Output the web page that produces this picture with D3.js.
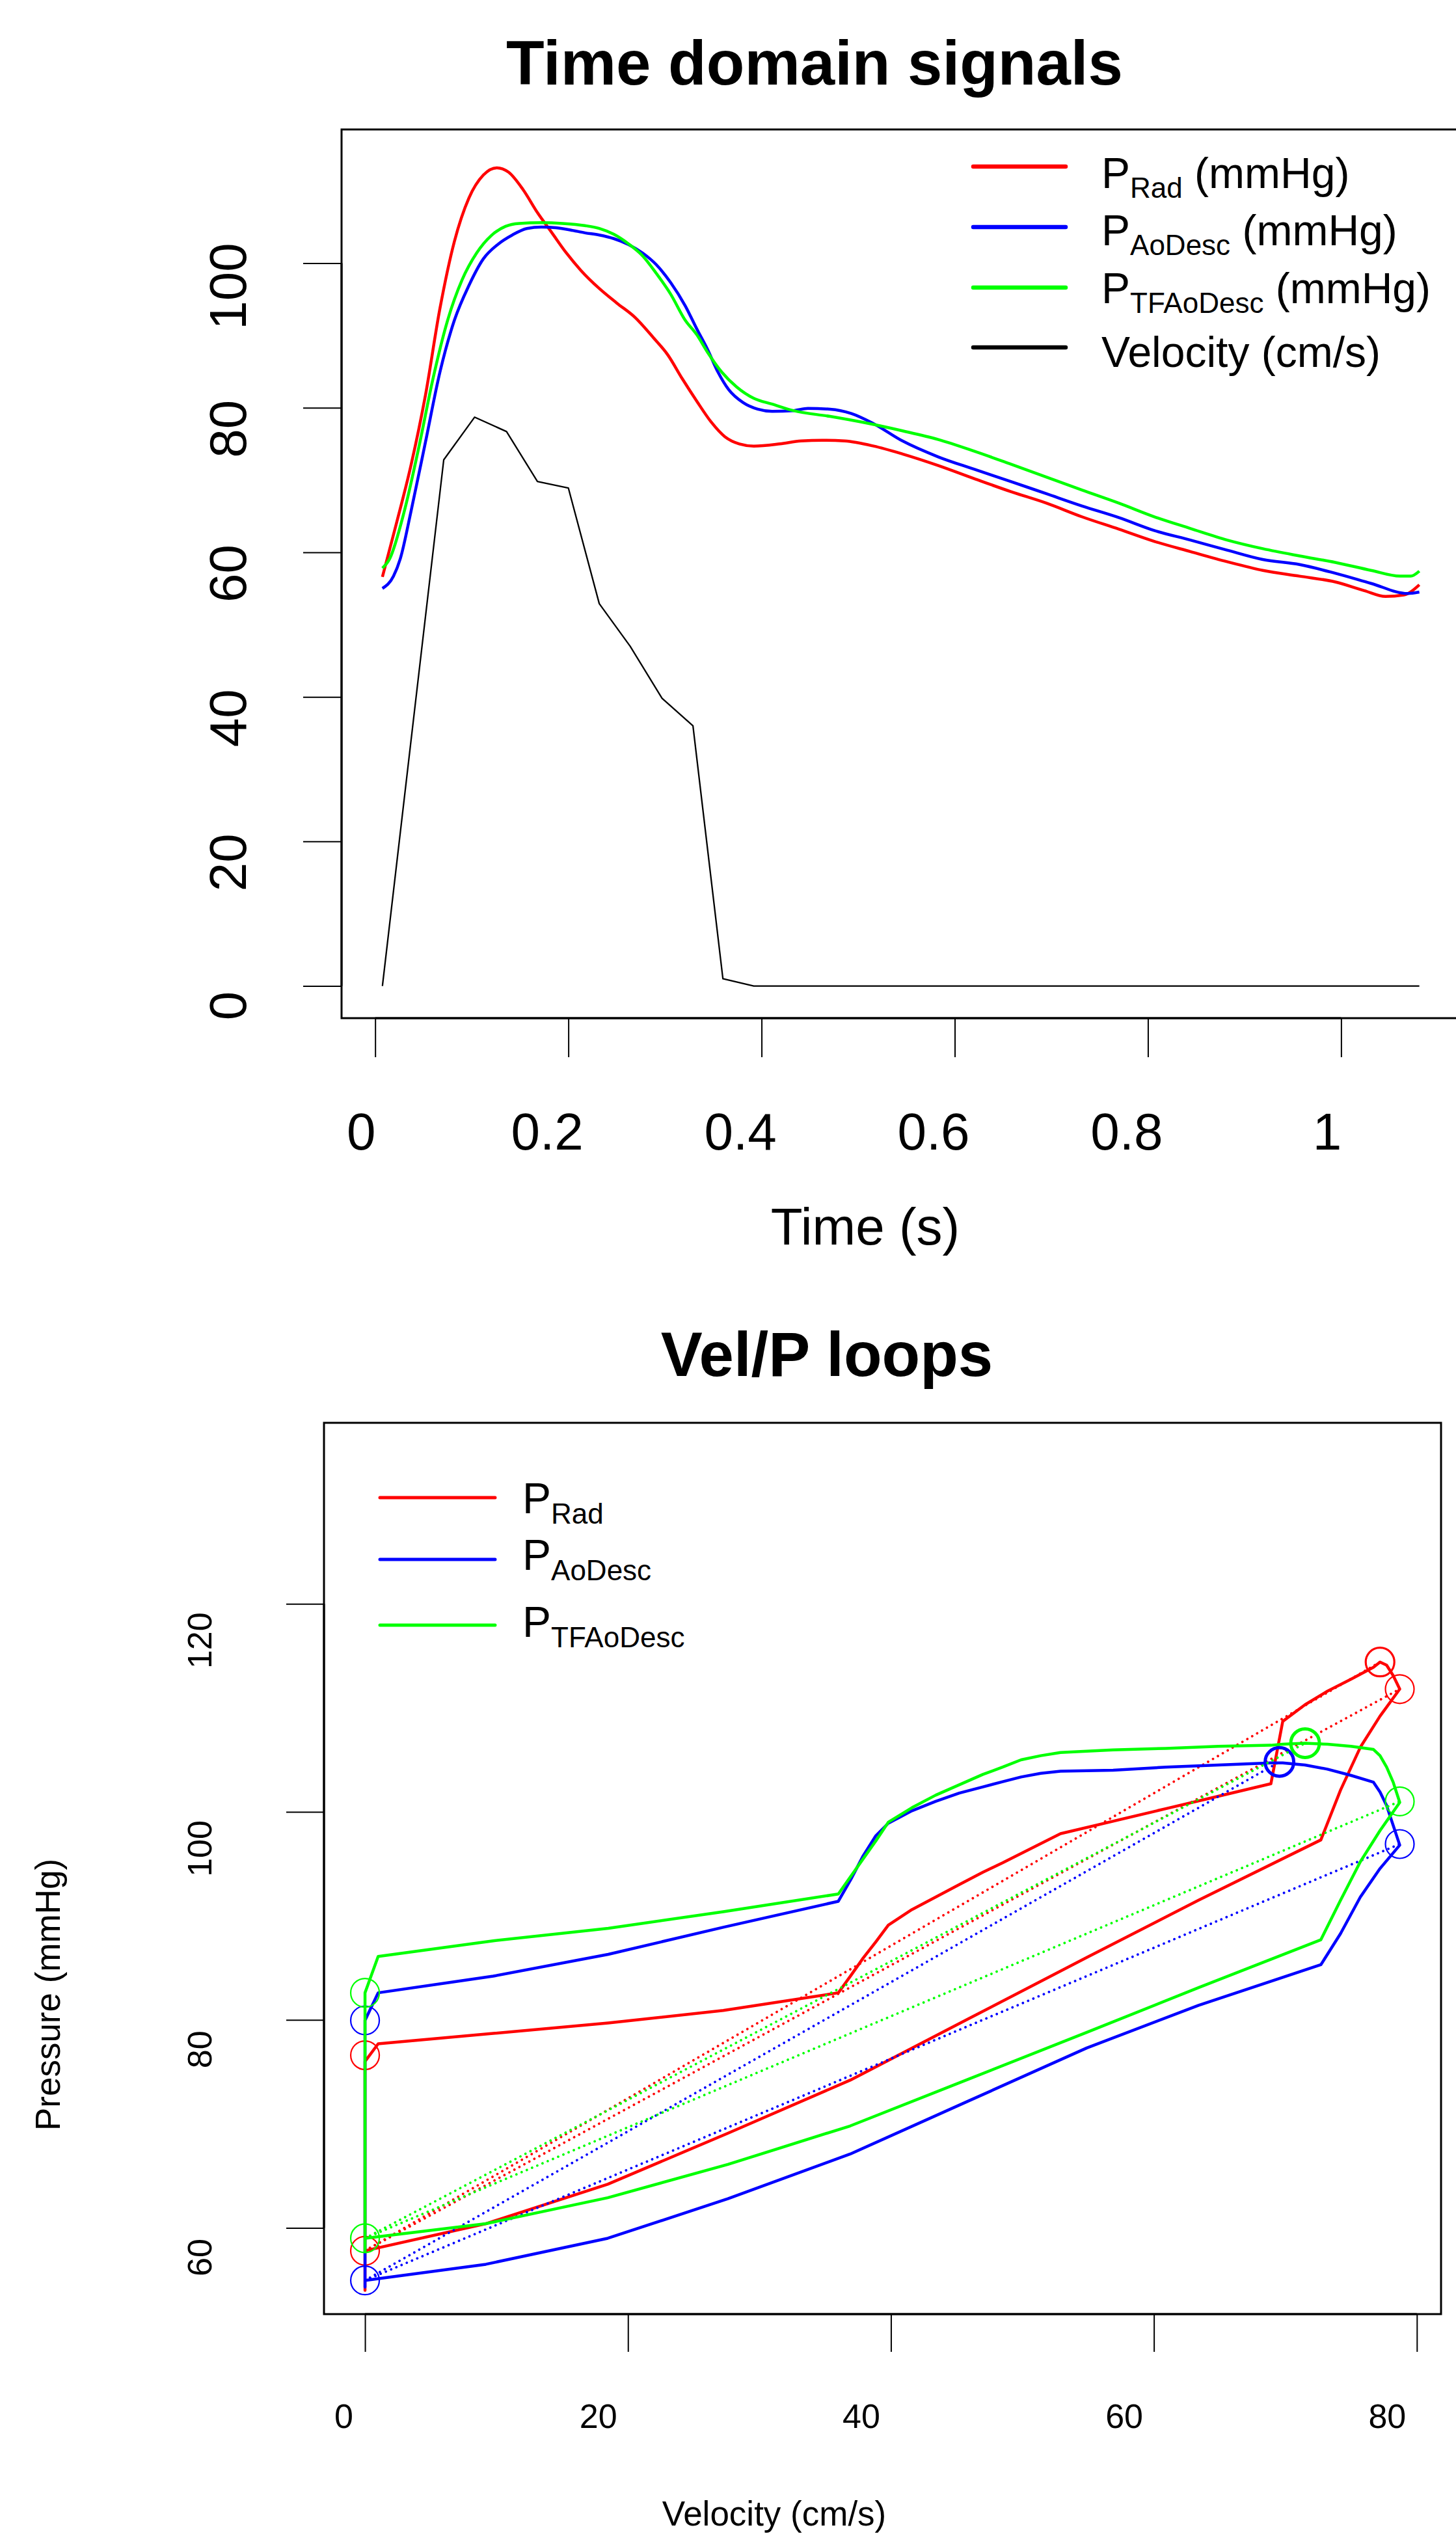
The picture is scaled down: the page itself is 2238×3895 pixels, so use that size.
<!DOCTYPE html>
<html><head><meta charset="utf-8">
<script src="https://cdn.jsdelivr.net/npm/d3@7"></script>
<style>body{margin:0;background:#fff}svg{display:block}text{font-family:"Liberation Sans",Arial,Helvetica,sans-serif}</style>
</head><body>
<script>
// ---------------- DATA: time domain signals ----------------
const tRad = [0.0075,0.022,0.037,0.052,0.067,0.082,0.097,0.112,0.126,0.138,0.153,0.168,0.183,0.198,0.213,0.232,0.25,0.269,0.288,0.303,0.318,0.333,0.348,0.362,0.377,0.392,0.419,0.441,0.463,0.486,0.516,0.546,0.583,0.62,0.658,0.695,0.732,0.77,0.807,0.844,0.882,0.919,0.957,0.994,1.024,1.046,1.065,1.081];
const pRad = [56.6,64,72,81.7,93.7,103,109,112.2,113.2,112.6,110.2,107,104.2,101.4,99,96.5,94.5,92.5,89.7,87.3,84,80.9,78,76,75,74.7,75,75.4,75.5,75.4,74.7,73.6,72,70.2,68.4,66.8,64.9,63.2,61.5,60.1,58.7,57.5,56.7,55.9,54.7,53.9,54.1,55.5];
const tAoDesc = [0.0075,0.019,0.026,0.037,0.052,0.067,0.082,0.097,0.112,0.127,0.142,0.157,0.172,0.187,0.202,0.217,0.232,0.247,0.262,0.277,0.291,0.306,0.321,0.333,0.344,0.355,0.366,0.381,0.396,0.411,0.433,0.448,0.471,0.493,0.516,0.546,0.583,0.62,0.658,0.695,0.732,0.77,0.807,0.844,0.882,0.919,0.957,0.994,1.031,1.069,1.081];
const pAoDesc = [55,56.7,59.1,65.6,75.2,84.9,92.1,96.9,100.6,102.6,103.9,104.8,105,104.9,104.6,104.2,103.9,103.4,102.6,101.4,99.8,97.3,94.1,90.9,88.1,84.9,82.5,80.7,79.8,79.5,79.6,79.9,79.8,79.2,77.8,75.4,73.2,71.5,69.8,68.1,66.4,64.8,63,61.7,60.3,59,58.3,57.1,55.7,54.3,54.5];
const tTFAoDesc = [0.0075,0.015,0.030,0.045,0.060,0.075,0.09,0.105,0.12,0.135,0.149,0.172,0.194,0.217,0.232,0.247,0.262,0.277,0.291,0.306,0.321,0.333,0.344,0.359,0.374,0.392,0.411,0.433,0.471,0.508,0.546,0.583,0.62,0.658,0.695,0.732,0.77,0.807,0.844,0.882,0.919,0.957,0.994,1.031,1.061,1.072,1.081];
const pTFAoDesc = [57.8,59.1,65.6,74.4,84.1,92.1,97.7,101.4,103.8,105.1,105.5,105.6,105.5,105.2,104.8,104,102.7,101,98.6,95.7,92.1,90.1,87.7,84.9,82.9,81.3,80.5,79.6,78.8,77.9,76.8,75.6,74,72.2,70.4,68.6,66.8,64.9,63.3,61.7,60.5,59.5,58.6,57.5,56.7,56.7,57.4];
const tVel = [0.0075,0.071,0.103,0.136,0.168,0.200,0.232,0.264,0.297,0.329,0.360,0.392,0.6,0.8,1.0,1.081];
const vVel = [0,72.8,78.7,76.7,69.8,68.9,52.9,47.0,39.8,36.0,1.0,0,0,0,0,0];

const timeTicks = [0,0.2,0.4,0.6,0.8,1];
const timeTickLabels = ["0","0.2","0.4","0.6","0.8","1"];
const topYTicks = [0,20,40,60,80,100];
const topYTickLabels = ["0","20","40","60","80","100"];

// ---------------- DATA: Vel/P loops ----------------
const loopVel = [0,9.19,18.46,27.6,36.9,45.9,54.9,63.4,72.7,74.2,75.7,77.2,78.7,
  78.2,77.7,77.2,76.7,75.0,73.2,71.5,69.8,68.9,64.9,60.9,56.9,52.9,51.4,49.9,48.5,47.0,45.2,43.4,41.6,39.8,38.85,37.9,36.95,36.0,27.25,18.5,9.75,1.0,0,
  0,0];
const loopRad = [57.8,60.4,64.2,69.1,74.2,80.1,86.0,91.5,97.3,102.1,106.2,109.2,111.8,
  113.1,114.1,114.4,113.9,112.75,111.6,110.3,108.7,102.7,101.5,100.3,99.1,97.9,96.95,96.0,95.1,94.2,93.0,91.8,90.6,89.1,87.5,85.96,84.26,82.6,80.9,79.7,78.7,77.7,76.0,
  54.0,55.5];
const loopAoDesc = [54.95,56.5,59.0,62.8,67.1,72.2,77.3,81.4,85.3,88.3,91.8,94.55,96.8,
  98.7,100.6,101.9,102.85,103.5,104.1,104.5,104.7,104.7,104.5,104.3,104.0,103.9,103.7,103.35,102.9,102.4,101.8,101.0,100.1,98.9,97.7,95.8,93.5,91.4,88.9,86.3,84.2,82.6,79.95,
  54.3,55.0];
const loopTFAoDesc = [59.0,60.4,62.9,66.1,69.8,74.3,78.8,83.1,87.7,91.5,95.2,98.2,100.9,
  102.85,104.3,105.4,106.0,106.3,106.5,106.6,106.5,106.4,106.3,106.1,105.95,105.7,105.4,105.0,104.3,103.6,102.6,101.6,100.4,99.0,97.2,95.5,93.8,92.1,90.4,88.8,87.6,86.1,82.6,
  57.7,58.4];
// marked points: start, end of ejection, max pressure, max velocity
const markVelRad = [0,0,77.2,78.7],       markPRad = [57.8,76.6,114.4,111.8];
const markVelAoDesc = [0,0,69.55,78.7],   markPAoDesc = [54.95,79.95,104.8,96.9];
const markVelTFAoDesc = [0,0,71.5,78.7],  markPTFAoDesc = [59.0,82.6,106.6,101.0];

const velTicks = [0,20,40,60,80];
const velTickLabels = ["0","20","40","60","80"];
const pTicks = [60,80,100,120];
const pTickLabels = ["60","80","100","120"];

const colRad = "#ff0000", colAo = "#0000ff", colTF = "#00ff00";

// ---------------- DRAW ----------------
const W = 2238, H = 3895;
const svg = d3.select("body").append("svg").attr("width", W).attr("height", H);

// ---- top plot ----
const xT = d3.scaleLinear().domain([-0.0348, 1.123]).range([525, 2244]);
const yT = d3.scaleLinear().domain([-4.45, 118.5]).range([1565, 199]);
const gTop = svg.append("g");

const lineT = d3.line().x(d => xT(d[0])).y(d => yT(d[1])).curve(d3.curveMonotoneX);
const zip = (a, b) => a.map((v, i) => [v, b[i]]);
[[tRad, pRad, colRad], [tAoDesc, pAoDesc, colAo], [tTFAoDesc, pTFAoDesc, colTF]].forEach(([t, p, c]) => {
  gTop.append("path").attr("d", lineT(zip(t, p))).attr("fill", "none").attr("stroke", c).attr("stroke-width", 4.5).attr("stroke-linejoin", "round");
});
gTop.append("path").attr("d", d3.line().x(d => xT(d[0])).y(d => yT(d[1]))(zip(tVel, vVel)))
  .attr("fill", "none").attr("stroke", "#000").attr("stroke-width", 2.3).attr("stroke-linejoin", "round");

gTop.append("rect").attr("x", 525).attr("y", 199).attr("width", 1719).attr("height", 1366)
  .attr("fill", "none").attr("stroke", "#000").attr("stroke-width", 3);

function shiftFor(label, offs) { return offs[Math.min(label.length, offs.length) - 1]; }

// x axis top
const gxT = gTop.append("g").attr("transform", "translate(0,1565)")
  .call(d3.axisBottom(xT).tickValues(timeTicks).tickSize(60).tickFormat((d, i) => timeTickLabels[i]));
gxT.select(".domain").remove();
gxT.selectAll(".tick line").attr("stroke-width", 2);
gxT.selectAll(".tick text").attr("y", 202).attr("dy", 0).attr("font-size", 80).attr("fill", "#000")
  .attr("font-family", null)
  .attr("x", function () { return -shiftFor(this.textContent, [22, 28, 33]); });
gTop.append("line").attr("x1", xT(0)).attr("x2", xT(1)).attr("y1", 1565).attr("y2", 1565).attr("stroke", "#000").attr("stroke-width", 3);

// y axis top
const gyT = gTop.append("g").attr("transform", "translate(525,0)")
  .call(d3.axisLeft(yT).tickValues(topYTicks).tickSize(59).tickFormat((d, i) => topYTickLabels[i]));
gyT.select(".domain").remove();
gyT.selectAll(".tick line").attr("stroke-width", 2);
gyT.selectAll(".tick text").attr("x", null).attr("dy", 0).attr("font-size", 80).attr("fill", "#000")
  .attr("font-family", null).attr("text-anchor", "middle")
  .attr("transform", function () { return `translate(-147,${shiftFor(this.textContent, [30, 32, 35])}) rotate(-90)`; });
gTop.append("line").attr("x1", 525).attr("x2", 525).attr("y1", yT(0)).attr("y2", yT(100)).attr("stroke", "#000").attr("stroke-width", 3);

svg.append("text").attr("x", 1252).attr("y", 130).attr("text-anchor", "middle").attr("font-size", 96).attr("font-weight", "bold").text("Time domain signals");
svg.append("text").attr("x", 1330).attr("y", 1913).attr("text-anchor", "middle").attr("font-size", 80).text("Time (s)");

// top legend
const legTop = [
  {c: colRad, sub: "Rad", rest: " (mmHg)", ly: 256, by: 289},
  {c: colAo, sub: "AoDesc", rest: " (mmHg)", ly: 349, by: 377},
  {c: colTF, sub: "TFAoDesc", rest: " (mmHg)", ly: 442, by: 466},
  {c: "#000", sub: null, rest: "Velocity (cm/s)", ly: 534, by: 564}
];
legTop.forEach(d => {
  svg.append("line").attr("x1", 1496).attr("x2", 1638).attr("y1", d.ly).attr("y2", d.ly)
    .attr("stroke", d.c).attr("stroke-width", 6.5).attr("stroke-linecap", "round");
  const t = svg.append("text").attr("x", 1693).attr("y", d.by).attr("font-size", 66);
  if (d.sub) {
    t.append("tspan").text("P");
    t.append("tspan").attr("font-size", 44).attr("dy", 15).text(d.sub);
    t.append("tspan").attr("dy", -15).text(d.rest);
  } else t.text(d.rest);
});

// ---- bottom plot ----
const xB = d3.scaleLinear().domain([-3.12, 81.84]).range([498, 2215]);
const yB = d3.scaleLinear().domain([51.71, 137.4]).range([3557, 2187]);
const gBot = svg.append("g");
const lineB = d3.line().x(d => xB(d[0])).y(d => yB(d[1]));

const series = [
  {p: loopRad, c: colRad, mv: markVelRad, mp: markPRad, sw: [2.2, 2.2, 3.2, 2.2]},
  {p: loopAoDesc, c: colAo, mv: markVelAoDesc, mp: markPAoDesc, sw: [2.2, 2.2, 5, 2.2]},
  {p: loopTFAoDesc, c: colTF, mv: markVelTFAoDesc, mp: markPTFAoDesc, sw: [2.2, 2.2, 5, 2.2]}
];
series.forEach(s => {
  gBot.append("path").attr("d", lineB(zip(loopVel, s.p))).attr("fill", "none").attr("stroke", s.c)
    .attr("stroke-width", 4.5).attr("stroke-linejoin", "round");
  [2, 3].forEach(k => {
    gBot.append("path").attr("d", lineB([[s.mv[0], s.mp[0]], [s.mv[k], s.mp[k]]]))
      .attr("fill", "none").attr("stroke", s.c).attr("stroke-width", 3.8)
      .attr("stroke-dasharray", "0.01 8.7").attr("stroke-linecap", "round");
  });
  s.mv.forEach((v, i) => {
    gBot.append("circle").attr("cx", xB(v)).attr("cy", yB(s.mp[i])).attr("r", 22)
      .attr("fill", "none").attr("stroke", s.c).attr("stroke-width", s.sw[i]);
  });
});

gBot.append("rect").attr("x", 498).attr("y", 2187).attr("width", 1717).attr("height", 1370)
  .attr("fill", "none").attr("stroke", "#000").attr("stroke-width", 3);

const gxB = gBot.append("g").attr("transform", "translate(0,3557)")
  .call(d3.axisBottom(xB).tickValues(velTicks).tickSize(58).tickFormat((d, i) => velTickLabels[i]));
gxB.select(".domain").remove();
gxB.selectAll(".tick line").attr("stroke-width", 2);
gxB.selectAll(".tick text").attr("y", 175).attr("dy", 0).attr("font-size", 52).attr("fill", "#000")
  .attr("font-family", null)
  .attr("x", function () { return -shiftFor(this.textContent, [33, 46, 52]); });
gBot.append("line").attr("x1", xB(0)).attr("x2", xB(80)).attr("y1", 3557).attr("y2", 3557).attr("stroke", "#000").attr("stroke-width", 3);

const gyB = gBot.append("g").attr("transform", "translate(498,0)")
  .call(d3.axisLeft(yB).tickValues(pTicks).tickSize(58).tickFormat((d, i) => pTickLabels[i]));
gyB.select(".domain").remove();
gyB.selectAll(".tick line").attr("stroke-width", 2);
gyB.selectAll(".tick text").attr("x", null).attr("dy", 0).attr("font-size", 52).attr("fill", "#000")
  .attr("font-family", null).attr("text-anchor", "middle")
  .attr("transform", function () { return `translate(-173,${shiftFor(this.textContent, [40, 45, 56])}) rotate(-90)`; });
gBot.append("line").attr("x1", 498).attr("x2", 498).attr("y1", yB(60)).attr("y2", yB(120)).attr("stroke", "#000").attr("stroke-width", 3);

svg.append("text").attr("x", 1271).attr("y", 2115).attr("text-anchor", "middle").attr("font-size", 96).attr("font-weight", "bold").text("Vel/P loops");
svg.append("text").attr("x", 1190).attr("y", 3882).attr("text-anchor", "middle").attr("font-size", 53).text("Velocity (cm/s)");
svg.append("text").attr("transform", "translate(92,3066) rotate(-90)").attr("text-anchor", "middle").attr("font-size", 53).text("Pressure (mmHg)");

// bottom legend
const legBot = [
  {c: colRad, sub: "Rad", ly: 2302, by: 2326},
  {c: colAo, sub: "AoDesc", ly: 2397, by: 2413},
  {c: colTF, sub: "TFAoDesc", ly: 2498, by: 2516}
];
legBot.forEach(d => {
  svg.append("line").attr("x1", 584).attr("x2", 761).attr("y1", d.ly).attr("y2", d.ly)
    .attr("stroke", d.c).attr("stroke-width", 5).attr("stroke-linecap", "round");
  const t = svg.append("text").attr("x", 803).attr("y", d.by).attr("font-size", 66);
  t.append("tspan").text("P");
  t.append("tspan").attr("font-size", 44).attr("dy", 16).text(d.sub);
});
</script>
</body></html>
